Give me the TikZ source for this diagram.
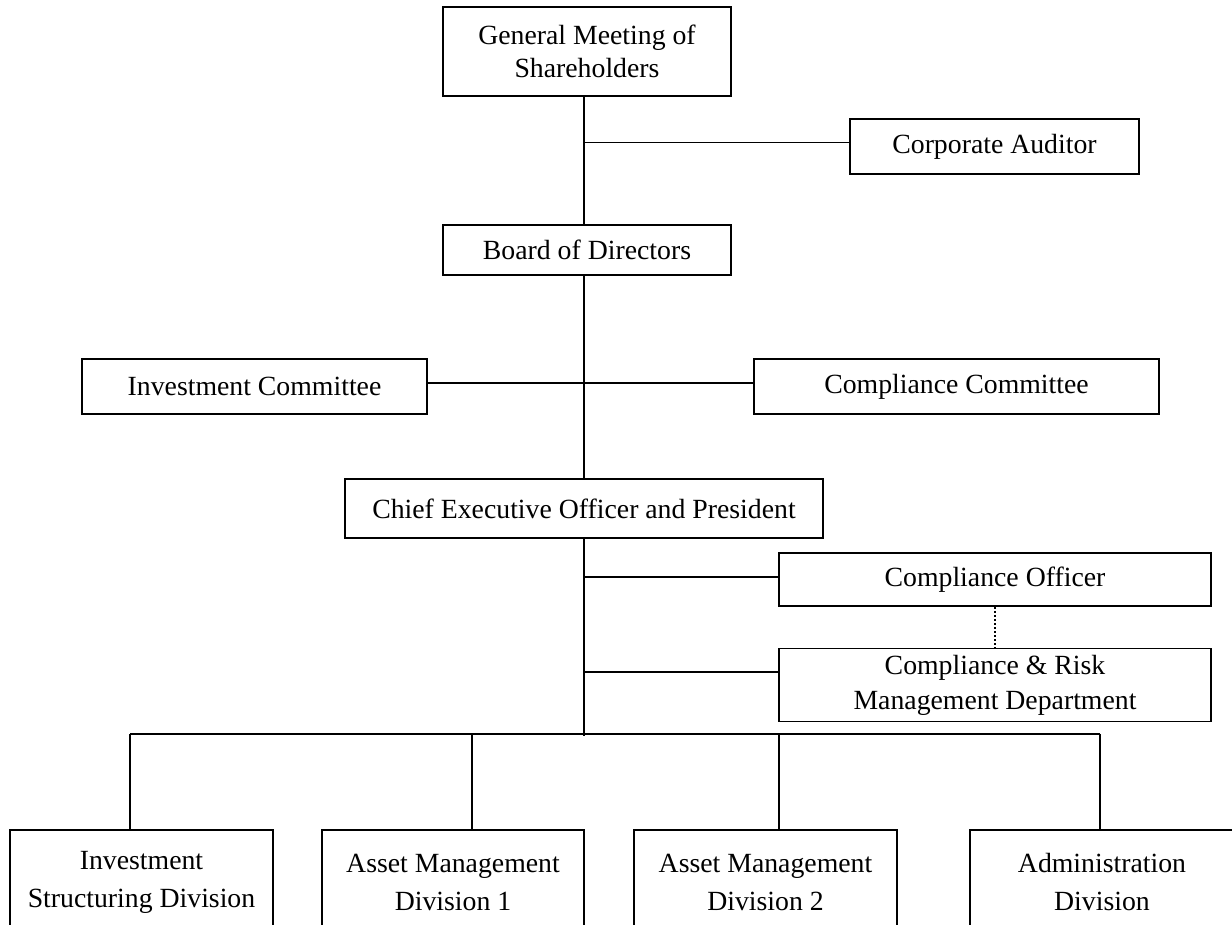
\documentclass[tikz,border=0pt]{standalone}
\usepackage{fontspec}
\setmainfont{Liberation Serif}
\begin{document}
\begin{tikzpicture}[x=0.02cm,y=-0.02cm,
  box/.style={draw,line width=1pt,inner sep=0pt,align=center,
    font=\fontsize{15.8pt}{18.7pt}\selectfont},
  lowbox/.style={box,font=\fontsize{15.8pt}{21.6pt}\selectfont},
  midbox/.style={box,font=\fontsize{15.8pt}{19.8pt}\selectfont},
  conn/.style={line width=0.95pt}]
\useasboundingbox (0,0) rectangle (1232,925);
\clip (0,0) rectangle (1232,925);
% boxes
\node[box,minimum width=5.76cm,minimum height=1.78cm] (gms) at (587,51.5) {General Meeting of\\Shareholders};
\node[box,minimum width=5.78cm,minimum height=1.10cm] (ca) at (994.5,146.5) {Corporate Auditor};
\node[box,minimum width=5.76cm,minimum height=1.00cm] (bod) at (587,250) {Board of Directors};
\node[box,minimum width=6.90cm,minimum height=1.10cm] (ic) at (254.5,386.5) {Investment Committee};
\node[box,minimum width=8.10cm,minimum height=1.10cm] (cc) at (956.5,386.5) {Compliance Committee};
\node[box,minimum width=9.56cm,minimum height=1.18cm] (ceo) at (584,508.5) {Chief Executive Officer and President};
\node[box,minimum width=8.64cm,minimum height=1.06cm] (co) at (995,579.5) {Compliance Officer};
\node[midbox,minimum width=8.64cm,minimum height=1.46cm] (crm) at (995,685) {Compliance \& Risk\\Management Department};
\node[lowbox,minimum width=5.26cm,minimum height=2.08cm] (isd) at (141.5,882) {Investment\\Structuring Division};
\node[lowbox,minimum width=5.24cm,minimum height=2.08cm] (am1) at (453,882) {Asset Management\\Division 1};
\node[lowbox,minimum width=5.26cm,minimum height=2.08cm] (am2) at (765.5,882) {Asset Management\\Division 2};
\node[lowbox,minimum width=5.28cm,minimum height=2.08cm] (adm) at (1102,882) {Administration\\Division};
% junctions
\coordinate (jca) at (584,142.5);
\coordinate (jic) at (584,383);
\coordinate (jco) at (584,577);
\coordinate (jcrm) at (584,672);
\coordinate (bus) at (584,736);
\coordinate (b1) at (130,734);
\coordinate (b2) at (472,734);
\coordinate (b3) at (779,734);
\coordinate (b4) at (1100,734);
% trunk
\draw[conn] (gms.south -| jca) -- (bod.north -| jca);
\draw[conn] (bod.south -| jic) -- (ceo.north -| jic);
\draw[conn] (ceo.south -| bus) -- (bus);
% branches
\draw[conn] (jca) -- (ca.west |- jca);
\draw[conn] (ic.east |- jic) -- (cc.west |- jic);
\draw[conn] (jco) -- (co.west |- jco);
\draw[conn] (jcrm) -- (crm.west |- jcrm);
\draw[line width=1pt,dash pattern=on 1pt off 1.3pt] (co.south) -- (crm.north);
% bus
\draw[conn] (b1) -- (b4);
\draw[conn] (b1) -- (isd.north -| b1);
\draw[conn] (b2) -- (am1.north -| b2);
\draw[conn] (b3) -- (am2.north -| b3);
\draw[conn] (b4) -- (adm.north -| b4);
\end{tikzpicture}
\end{document}
